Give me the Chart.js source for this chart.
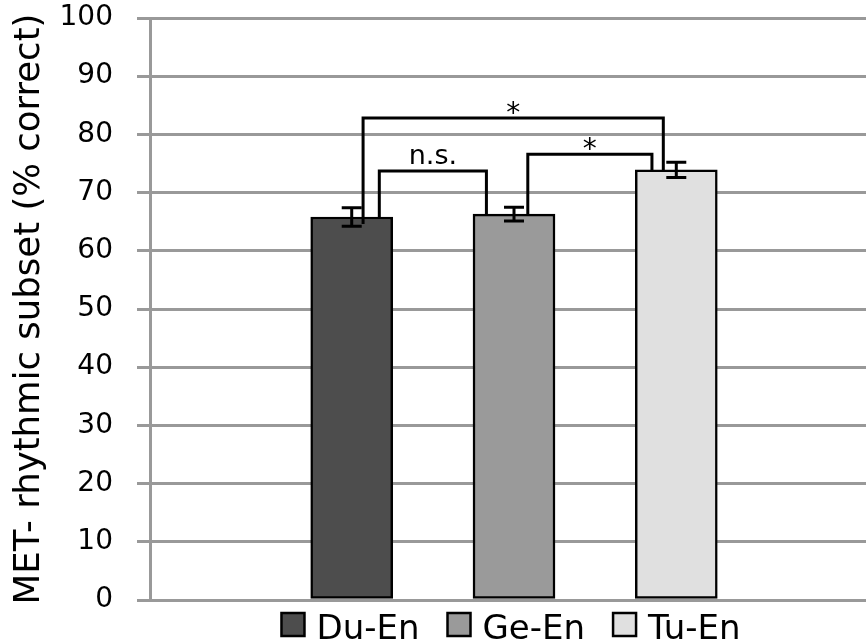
<!DOCTYPE html>
<html>
<head>
<meta charset="utf-8">
<script src="https://cdn.jsdelivr.net/npm/chart.js@4/dist/chart.umd.min.js"></script>
<style>
  html, body { margin: 0; padding: 0; background: #fff; }
  #wrap { width: 866px; height: 642px; position: relative; }
</style>
</head>
<body>
<div id="wrap"><canvas id="metChart"></canvas></div>
<script>
// groups and values
const groups = ["Du-En", "Ge-En", "Tu-En"];
const groupX = [1, 2, 3];
const means = [65.8, 66.3, 73.9];
const errors = [1.6, 1.2, 1.3];
const fills = ["#4d4d4d", "#9a9a9a", "#e0e0e0"];

const yTicks = [0, 10, 20, 30, 40, 50, 60, 70, 80, 90, 100];

// significance brackets: x in bar units, heights in % correct
const bracketX1 = [1.17, 1.07, 2.085];
const bracketX2 = [1.83, 2.92, 2.85];
const bracketTop = [73.7, 82.8, 76.6];
const bracketEnd1 = [65.8, 64.6, 66.0];
const bracketEnd2 = [66.3, 73.9, 73.9];
const bracketLabel = ["n.s.", "*", "*"];

const FONT = "'DejaVu Sans', sans-serif";

const errorBars = {
  id: "errorBars",
  afterDatasetsDraw(chart) {
    const { ctx, scales: { x, y } } = chart;
    ctx.save();
    ctx.strokeStyle = "#000";
    ctx.lineWidth = 3;
    means.forEach((m, i) => {
      const cx = x.getPixelForValue(groupX[i]);
      const hi = y.getPixelForValue(m + errors[i]);
      const lo = y.getPixelForValue(m - errors[i]);
      ctx.beginPath();
      ctx.moveTo(cx, hi); ctx.lineTo(cx, lo);
      ctx.moveTo(cx - 10, hi); ctx.lineTo(cx + 10, hi);
      ctx.moveTo(cx - 10, lo); ctx.lineTo(cx + 10, lo);
      ctx.stroke();
    });

    // brackets
    bracketTop.forEach((t, i) => {
      const x1 = x.getPixelForValue(bracketX1[i]);
      const x2 = x.getPixelForValue(bracketX2[i]);
      const yt = y.getPixelForValue(t);
      ctx.beginPath();
      ctx.moveTo(x1, y.getPixelForValue(bracketEnd1[i]));
      ctx.lineTo(x1, yt);
      ctx.lineTo(x2, yt);
      ctx.lineTo(x2, y.getPixelForValue(bracketEnd2[i]));
      ctx.stroke();

      const mid = (x1 + x2) / 2;
      ctx.fillStyle = "#000";
      ctx.textAlign = "center";
      ctx.textBaseline = "alphabetic";
      if (bracketLabel[i] === "*") {
        ctx.font = "28px " + FONT;
        ctx.fillText(bracketLabel[i], mid, yt + 4);
      } else {
        ctx.font = "27px " + FONT;
        ctx.fillText(bracketLabel[i], mid, yt - 7);
      }
    });
    ctx.restore();
  }
};

const bottomLegend = {
  id: "bottomLegend",
  afterDraw(chart) {
    const { ctx, chartArea } = chart;
    const box = 23, gap = 12, spacing = 28;
    ctx.save();
    ctx.font = "34px " + FONT;
    const widths = groups.map(g => box + gap + ctx.measureText(g).width);
    const total = widths.reduce((a, b) => a + b, 0) + spacing * (groups.length - 1);
    let left = (chartArea.left + chartArea.right) / 2 - total / 2 + 3;
    const top = chartArea.bottom + 13;
    groups.forEach((g, i) => {
      ctx.fillStyle = fills[i];
      ctx.fillRect(left, top, box, box);
      ctx.strokeStyle = "#000";
      ctx.lineWidth = 2.5;
      ctx.strokeRect(left, top, box, box);
      ctx.fillStyle = "#000";
      ctx.textAlign = "left";
      ctx.textBaseline = "alphabetic";
      ctx.fillText(g, left + box + gap, top + 26);
      left += widths[i] + spacing;
    });
    ctx.restore();
  }
};

const datasets = groups.map((g, i) => ({
  label: g,
  data: [{ x: groupX[i], y: means[i] }],
  backgroundColor: fills[i],
  borderColor: "#000",
  borderWidth: 2.5,
  borderSkipped: false,
  barThickness: 82,
  grouped: false
}));

new Chart(document.getElementById("metChart"), {
  type: "bar",
  data: { datasets },
  options: {
    responsive: true,
    maintainAspectRatio: false,
    animation: false,
    layout: { padding: { top: 0, bottom: 42, left: 0, right: 0 } },
    plugins: {
      legend: { display: false },
      tooltip: { enabled: false }
    },
    scales: {
      x: {
        type: "linear",
        display: false,
        offset: false,
        min: -0.243,
        max: 4.169
      },
      y: {
        min: 0,
        max: 100,
        afterBuildTicks: axis => { axis.ticks = yTicks.map(v => ({ value: v })); },
        afterFit: axis => {
          axis.width = 150;
          axis.paddingTop = 18;
          axis.paddingBottom = 0;
        },
        grid: { color: "#999", lineWidth: 3, tickLength: 13, drawTicks: true },
        border: { color: "#999", width: 3 },
        ticks: {
          color: "#000",
          padding: 24,
          font: { family: FONT, size: 28 }
        },
        title: {
          display: true,
          text: "MET- rhythmic subset (% correct)",
          color: "#000",
          font: { family: FONT, size: 35.5 },
          padding: { top: 8, bottom: 0 }
        }
      }
    }
  },
  plugins: [errorBars, bottomLegend]
});
</script>
</body>
</html>
